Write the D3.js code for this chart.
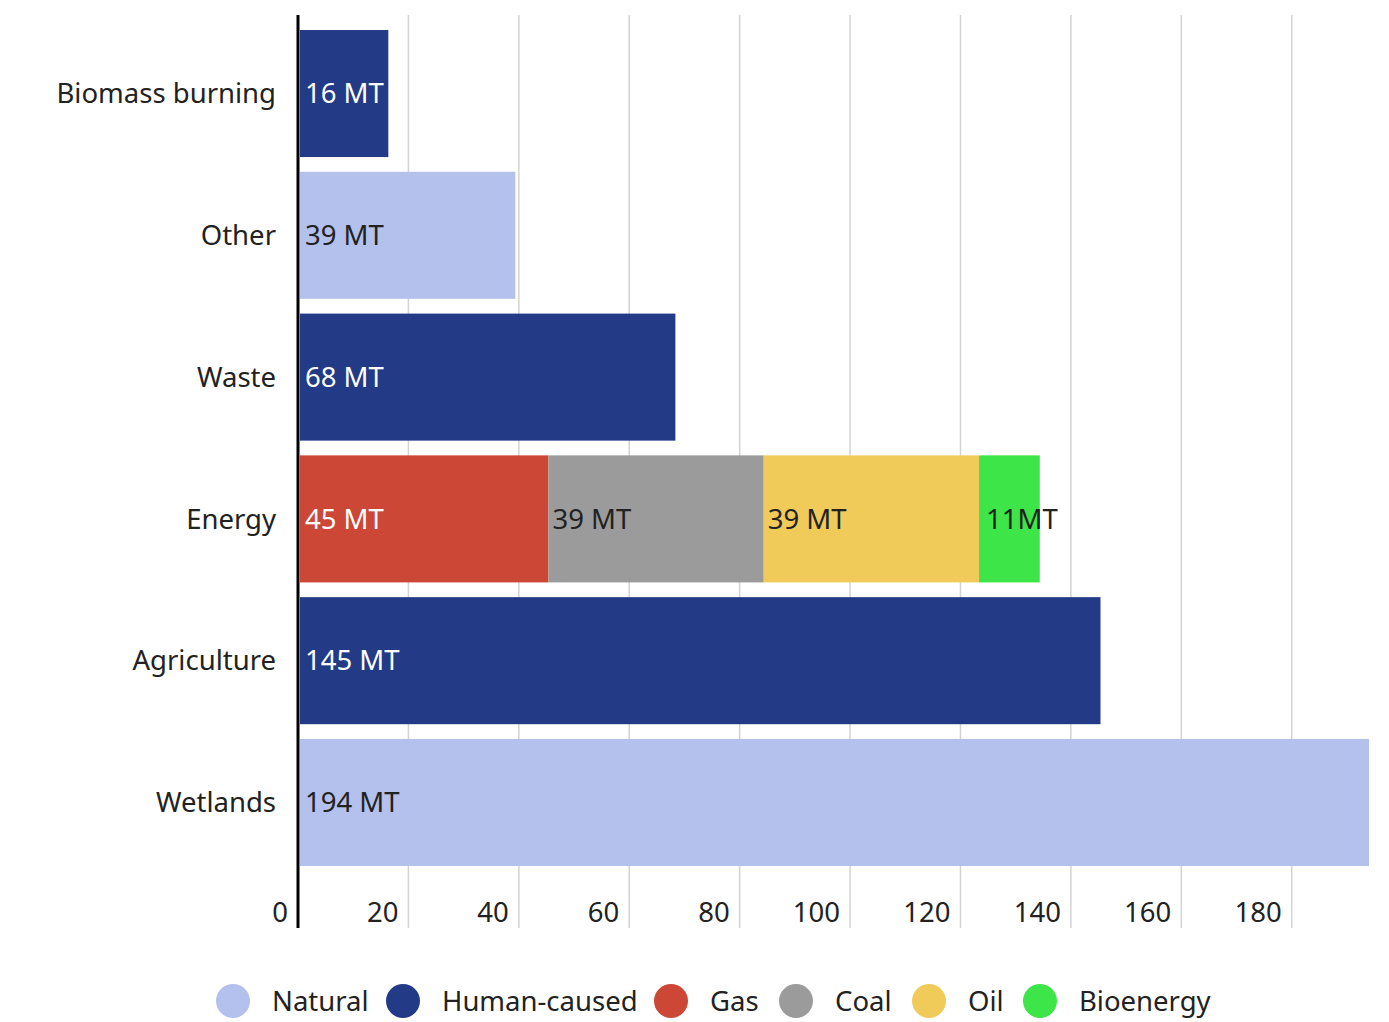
<!DOCTYPE html>
<html><head><meta charset="utf-8">
<script src="https://cdn.jsdelivr.net/npm/d3@7"></script>
<style>
body{margin:0;background:#fff;}
text{font-family:"Noto Sans","Open Sans",sans-serif;}
</style></head>
<body>
<svg id="chart" width="1389" height="1022"></svg>
<script>
const categories = ["Biomass burning","Other","Waste","Energy","Agriculture","Wetlands"];
const seriesKeys = ["Natural","Human-caused","Gas","Coal","Oil","Bioenergy"];
const natural   = [0, 39, 0, 0, 0, 194];
const human     = [16, 0, 68, 0, 145, 0];
const gas       = [0, 0, 0, 45, 0, 0];
const coal      = [0, 0, 0, 39, 0, 0];
const oil       = [0, 0, 0, 39, 0, 0];
const bioenergy = [0, 0, 0, 11, 0, 0];
const barLabels = {
  "Natural": ["", "39 MT", "", "", "", "194 MT"],
  "Human-caused": ["16 MT", "", "68 MT", "", "145 MT", ""],
  "Gas": ["", "", "", "45 MT", "", ""],
  "Coal": ["", "", "", "39 MT", "", ""],
  "Oil": ["", "", "", "39 MT", "", ""],
  "Bioenergy": ["", "", "", "11MT", "", ""]
};
const tickValues = [0,20,40,60,80,100,120,140,160,180];
const colors = ["#b3c1ec","#233a87","#cc4736","#9b9b9b","#f0cb5a","#3ee548"];
const labelColors = ["#222","#fff","#fff","#222","#222","#222"];

const values = [natural, human, gas, coal, oil, bioenergy];
const table = categories.map((c,i)=>{
  const o = {category:c};
  seriesKeys.forEach((k,j)=>o[k]=values[j][i]);
  return o;
});
const stacked = d3.stack().keys(seriesKeys)(table);

const svg = d3.select("#chart");
const x = d3.scaleLinear().domain([0,194]).range([298,1369]);
const y = d3.scaleBand().domain(categories).range([15,881]).paddingInner(0.104).paddingOuter(0.106);
const FS = 27.5;

// gridlines
svg.append("g").selectAll("line").data(tickValues.filter(t=>t>0)).join("line")
  .attr("x1",d=>x(d)).attr("x2",d=>x(d)).attr("y1",15).attr("y2",928)
  .attr("stroke","#d3d3d3").attr("stroke-width",1.5);

// bars (drawn from just right of the axis line)
const color = d3.scaleOrdinal().domain(seriesKeys).range(colors);
const layers = svg.append("g").selectAll("g").data(stacked).join("g")
  .attr("fill",d=>color(d.key));
layers.selectAll("rect").data(d=>d.filter(s=>s[1]-s[0]>0)).join("rect")
  .attr("x",d=>x(d[0])+2).attr("width",d=>Math.min(x(d[1])+2,1369)-(x(d[0])+2))
  .attr("y",d=>y(d.data.category)).attr("height",y.bandwidth());

// bar labels
stacked.forEach((layer,j)=>{
  layer.forEach((s,i)=>{
    const lbl = barLabels[layer.key][i];
    if(!lbl) return;
    svg.append("text")
      .attr("x", x(s[0]) + (s[0]===0 ? 7 : (layer.key==="Bioenergy" ? 9 : 6)))
      .attr("y", y(categories[i]) + y.bandwidth()/2)
      .attr("dy","0.35em")
      .attr("font-size",FS)
      .attr("fill",labelColors[j])
      .text(lbl);
  });
});

// category labels
svg.append("g").selectAll("text").data(categories).join("text")
  .attr("x",276).attr("y",d=>y(d)+y.bandwidth()/2).attr("dy","0.35em")
  .attr("text-anchor","end").attr("font-size",FS).attr("fill","#222")
  .text(d=>d);

// x tick labels
svg.append("g").selectAll("text").data(tickValues).join("text")
  .attr("x",d=>x(d)-10).attr("y",912).attr("dy","0.35em")
  .attr("text-anchor","end").attr("font-size",FS).attr("fill","#222")
  .text(d=>d);

// axis line
svg.append("line").attr("x1",298).attr("x2",298).attr("y1",15).attr("y2",928)
  .attr("stroke","#000").attr("stroke-width",3);

// legend
const legendX = [233,403,671,796,929,1040];
const lg = svg.append("g").selectAll("g").data(seriesKeys).join("g")
  .attr("transform",(d,i)=>`translate(${legendX[i]},1001)`);
lg.append("circle").attr("r",17).attr("fill",d=>color(d));
lg.append("text").attr("x",39).attr("dy","0.35em").attr("font-size",FS).attr("fill","#222").text(d=>d);
</script>
</body></html>
